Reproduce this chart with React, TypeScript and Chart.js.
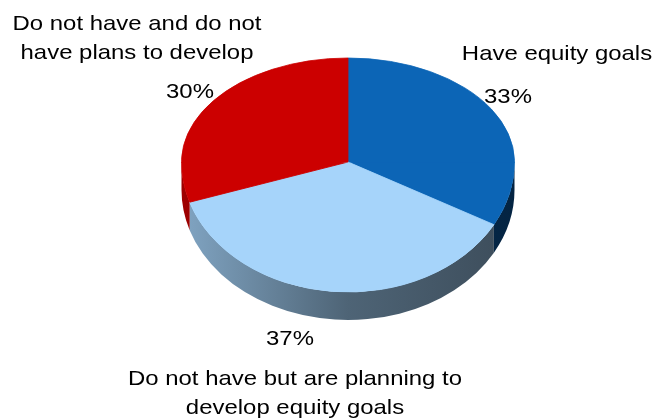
import React, { useEffect, useRef } from 'react';
import { Chart, registerables } from 'chart.js';

Chart.register(...registerables);

// ---- data ----
const categories = [
  'Have equity goals',
  'Do not have but are planning to develop equity goals',
  'Do not have and do not have plans to develop',
];
const categoryLines = [
  ['Have equity goals'],
  ['Do not have but are planning to', 'develop equity goals'],
  ['Do not have and do not', 'have plans to develop'],
];
const values = [33, 37, 30];
const percentLabels = ['33%', '37%', '30%'];
const sliceColors = ['#0C65B6', '#A6D4FA', '#CC0000'];

// ---- layout (not data) ----
const W = 654;
const H = 419;
const CY = 162; // apex of slices on screen
const RY_TOP = 104; // far half vertical radius
const RY_BOT = 130; // near half vertical radius
const DEPTH = 28;
const TEXT_SX = 1.14;
const FONT = '21px "Liberation Sans", Arial, sans-serif';
const LINE_H = 29;
const LABEL_POS = [
  { pct: [508, 103], cat: [557, 60] },
  { pct: [290, 345], cat: [295, 385] },
  { pct: [190, 98], cat: [137, 30] },
];

function hexToRgb(hex: string) {
  const h = hex.replace('#', '');
  return [0, 2, 4].map((i) => parseInt(h.slice(i, i + 2), 16));
}
function shade(hex: string, f: number) {
  const [r, g, b] = hexToRgb(hex);
  return `rgb(${Math.round(r * f)},${Math.round(g * f)},${Math.round(b * f)})`;
}

const pie3dPlugin = {
  id: 'pie3d',
  beforeDatasetsDraw(chart: any) {
    const ctx = chart.ctx as CanvasRenderingContext2D;
    const meta = chart.getDatasetMeta(0);
    const arcs = meta.data;
    if (!arcs.length) return false;
    const { x, y, outerRadius } = arcs[0].getProps(['x', 'y', 'outerRadius'], true);
    const R = outerRadius;

    // side walls (front half only)
    arcs.forEach((el: any, i: number) => {
      const { startAngle, endAngle } = el.getProps(['startAngle', 'endAngle'], true);
      const a1 = Math.max(startAngle, 0);
      const a2 = Math.min(endAngle, Math.PI);
      if (a2 <= a1) return;
      const base = sliceColors[i % sliceColors.length];
      const grad = ctx.createLinearGradient(x - R, 0, x + R, 0);
      grad.addColorStop(0, shade(base, 0.78));
      grad.addColorStop(0.5, shade(base, 0.47));
      grad.addColorStop(1, shade(base, 0.36));
      ctx.save();
      ctx.beginPath();
      ctx.ellipse(x, CY, R, RY_BOT, 0, a1, a2, false);
      ctx.lineTo(x + R * Math.cos(a2), CY + RY_BOT * Math.sin(a2) + DEPTH);
      ctx.ellipse(x, CY + DEPTH, R, RY_BOT, 0, a2, a1, true);
      ctx.closePath();
      ctx.fillStyle = grad;
      ctx.fill();
      ctx.restore();
    });

    // top face: near half then far half, each with its own vertical scale
    const halves = [
      { clip: [CY - 0.5, H - CY + 0.5], k: RY_BOT / R },
      { clip: [0, CY + 0.5], k: RY_TOP / R },
    ];
    // near half
    ctx.save();
    ctx.beginPath();
    ctx.rect(0, CY, W, H - CY);
    ctx.clip();
    ctx.translate(x, CY);
    ctx.scale(1, halves[0].k);
    ctx.translate(-x, -y);
    arcs.forEach((el: any) => el.draw(ctx));
    ctx.restore();
    // far half
    ctx.save();
    ctx.beginPath();
    ctx.rect(0, 0, W, CY + 0.5);
    ctx.clip();
    ctx.translate(x, CY);
    ctx.scale(1, halves[1].k);
    ctx.translate(-x, -y);
    arcs.forEach((el: any) => el.draw(ctx));
    ctx.restore();
    return false;
  },
  afterDraw(chart: any) {
    const ctx = chart.ctx as CanvasRenderingContext2D;
    ctx.save();
    ctx.font = FONT;
    ctx.fillStyle = '#000';
    ctx.textAlign = 'center';
    ctx.textBaseline = 'alphabetic';
    const put = (t: string, px: number, py: number) => {
      ctx.save();
      ctx.translate(px, py);
      ctx.scale(TEXT_SX, 1);
      ctx.fillText(t, 0, 0);
      ctx.restore();
    };
    values.forEach((_, i) => {
      const p = LABEL_POS[i];
      put(percentLabels[i], p.pct[0], p.pct[1]);
      categoryLines[i].forEach((line, j) => put(line, p.cat[0], p.cat[1] + j * LINE_H));
    });
    ctx.restore();
  },
};

export default function App() {
  const ref = useRef<HTMLCanvasElement | null>(null);
  useEffect(() => {
    document.body.style.margin = '0';
    const canvas = ref.current!;
    const chart = new Chart(canvas, {
      type: 'pie',
      data: {
        labels: categories,
        datasets: [
          {
            data: values,
            backgroundColor: sliceColors,
            borderColor: sliceColors,
            borderWidth: 1,
          },
        ],
      },
      options: {
        responsive: false,
        animation: false,
        events: [],
        layout: { padding: { left: 181, right: 139, top: 0, bottom: 0 } },
        plugins: { legend: { display: false }, tooltip: { enabled: false } },
      },
      plugins: [pie3dPlugin],
    } as any);
    return () => chart.destroy();
  }, []);
  return (
    <div style={{ width: W, height: H, background: '#fff' }}>
      <canvas ref={ref} width={W} height={H} style={{ display: 'block' }} />
    </div>
  );
}
